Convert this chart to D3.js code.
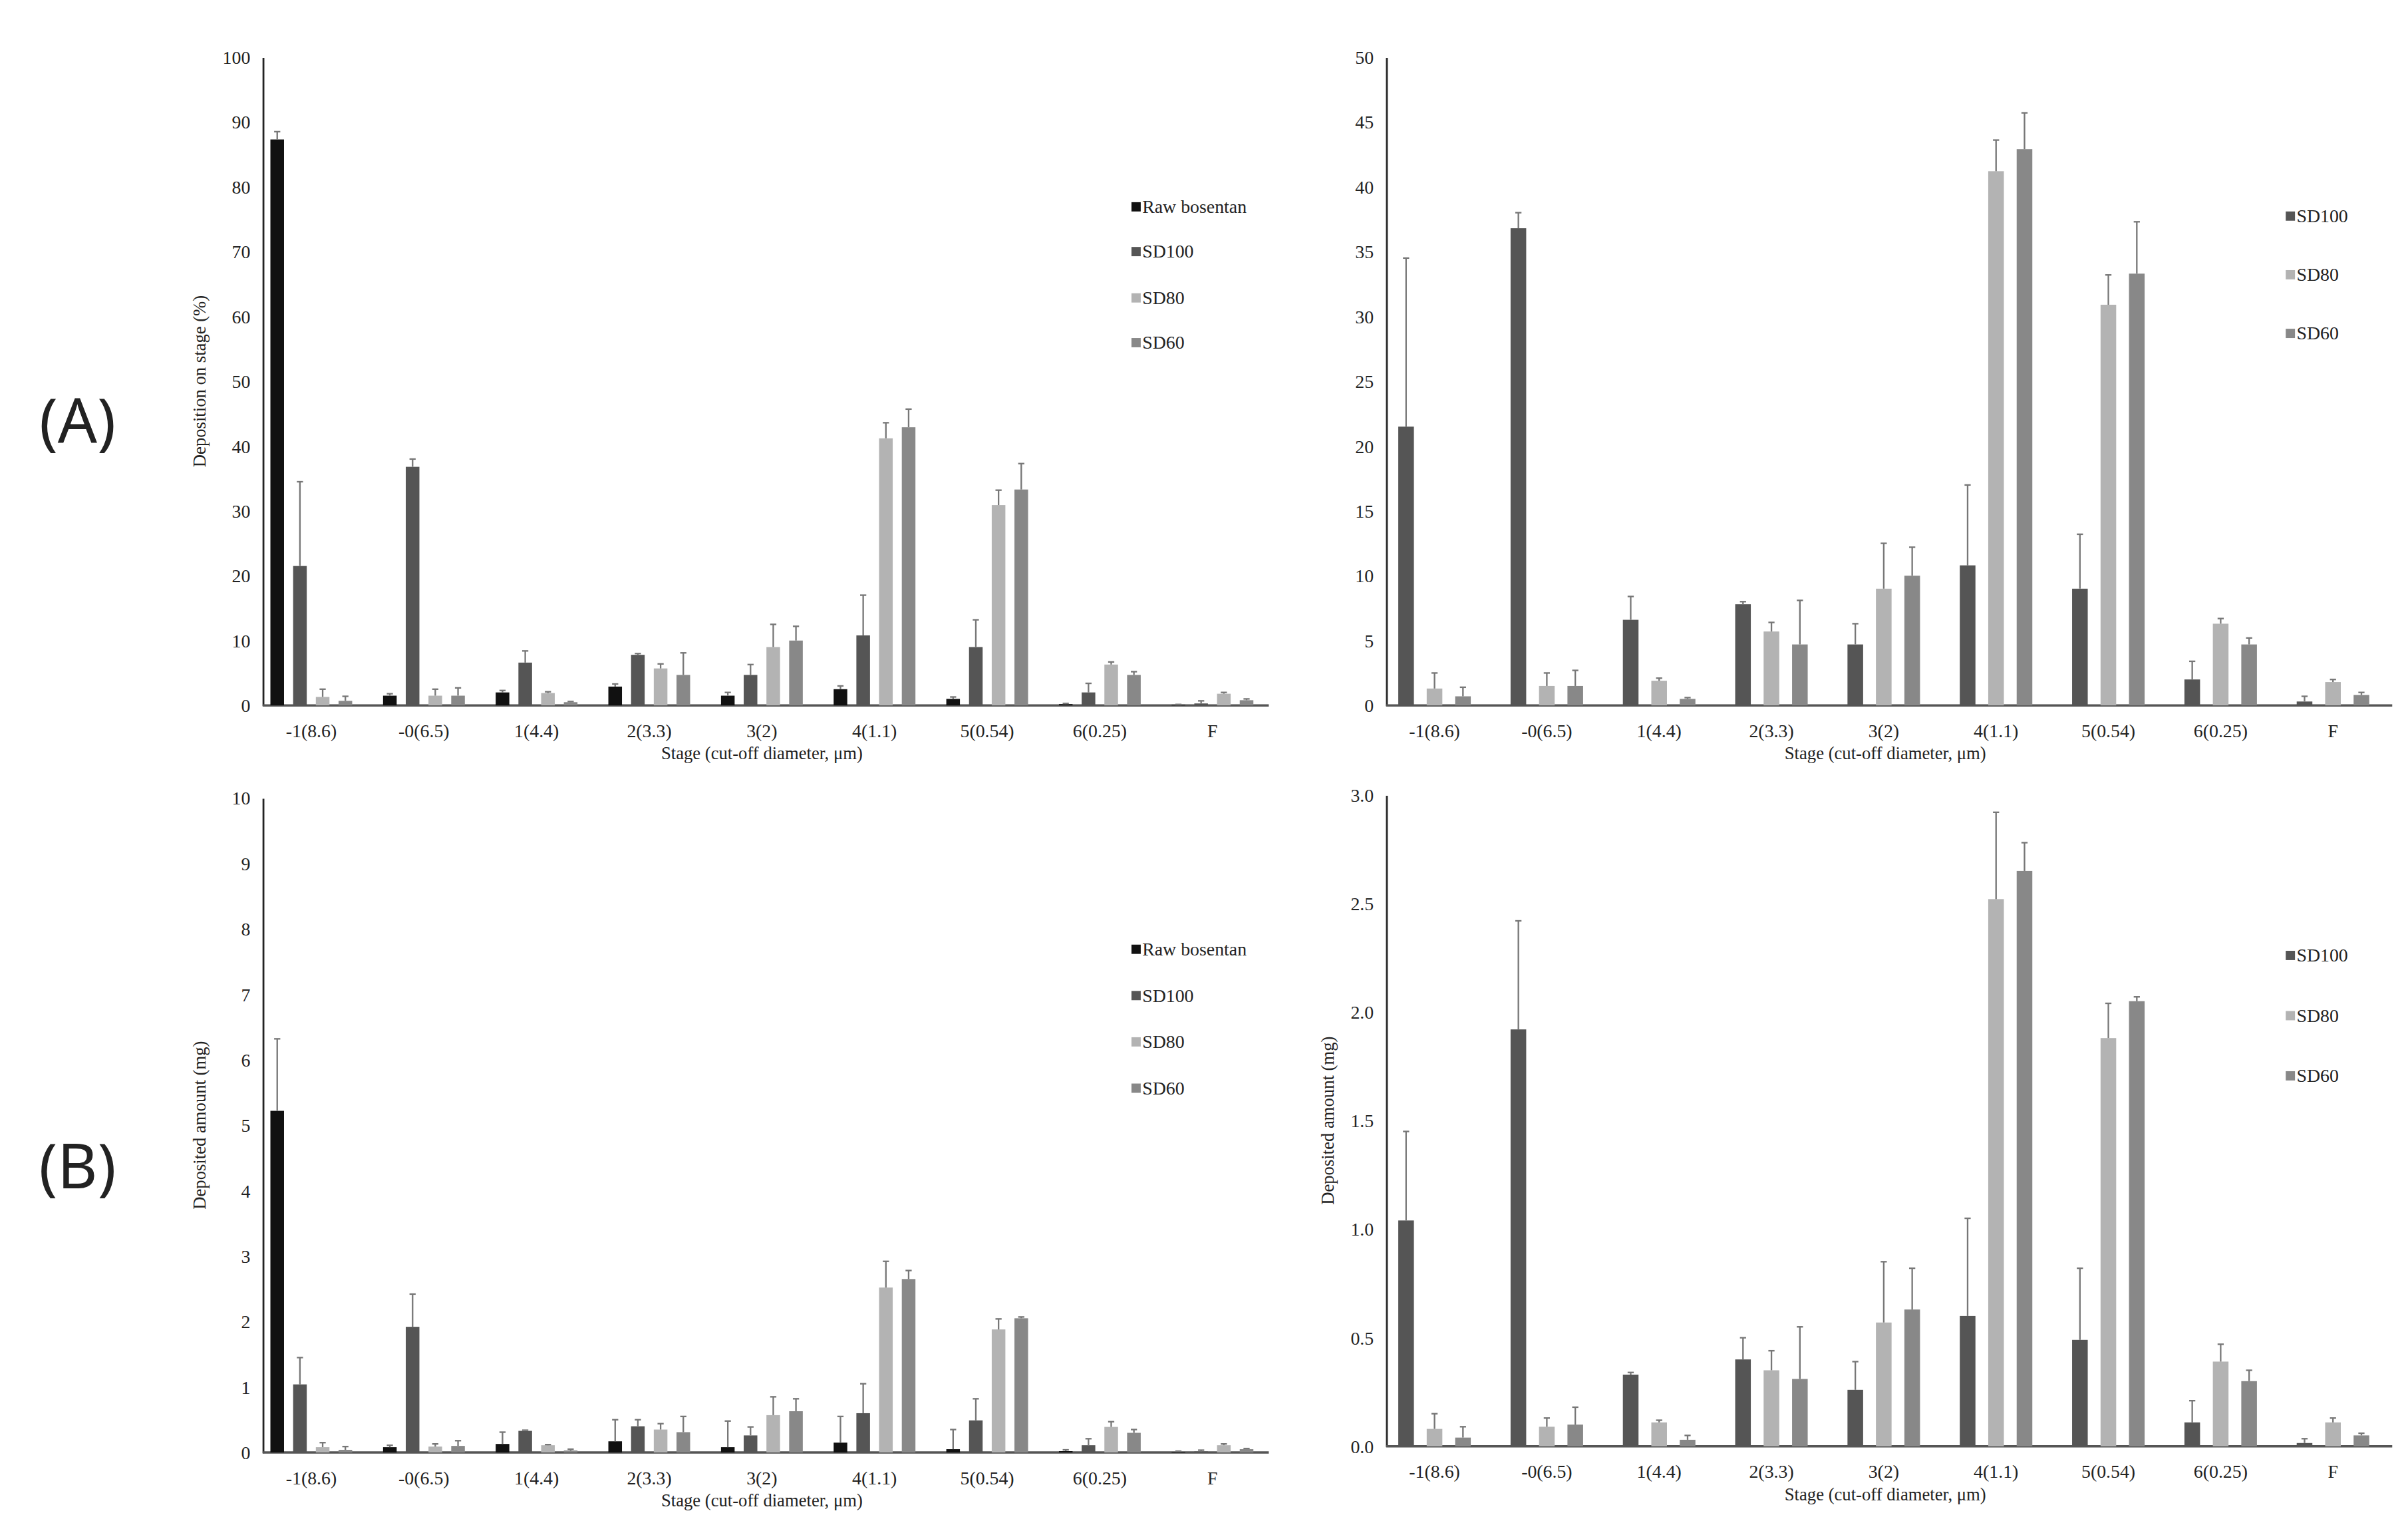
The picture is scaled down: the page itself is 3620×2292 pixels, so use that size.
<!DOCTYPE html>
<html><head><meta charset="utf-8">
<script src="https://cdn.jsdelivr.net/npm/d3@7"></script>
<style>body{margin:0;background:#fff}</style></head>
<body><svg id="c" width="3620" height="2292" viewBox="0 0 1560 988"></svg>
<script>
const stages = ["-1(8.6)","-0(6.5)","1(4.4)","2(3.3)","3(2)","4(1.1)","5(0.54)","6(0.25)","F"];
const seriesNames = ["Raw bosentan","SD100","SD80","SD60"];
const colors = ["#111111","#555555","#b3b3b3","#888888"];
// Deposition (%)
const pctRaw = [87.3,1.5,2.0,2.9,1.5,2.5,1.0,0.2,0.1];
const pctRawErr = [1.2,0.3,0.3,0.4,0.5,0.5,0.3,0.1,0.05];
const pctSD100 = [21.5,36.8,6.6,7.8,4.7,10.8,9.0,2.0,0.3];
const pctSD100Err = [13.0,1.2,1.8,0.2,1.6,6.2,4.2,1.4,0.4];
const pctSD80 = [1.3,1.5,1.9,5.7,9.0,41.2,30.9,6.3,1.8];
const pctSD80Err = [1.2,1.0,0.2,0.7,3.5,2.4,2.3,0.4,0.2];
const pctSD60 = [0.7,1.5,0.5,4.7,10.0,42.9,33.3,4.7,0.8];
const pctSD60Err = [0.7,1.2,0.1,3.4,2.2,2.8,4.0,0.5,0.2];
// Deposited amount (mg)
const mgRaw = [5.22,0.08,0.13,0.17,0.08,0.15,0.05,0.02,0.01];
const mgRawErr = [1.1,0.03,0.18,0.33,0.4,0.4,0.3,0.02,0.01];
const mgSD100 = [1.04,1.92,0.33,0.40,0.26,0.60,0.49,0.11,0.015];
const mgSD100Err = [0.41,0.5,0.01,0.1,0.13,0.45,0.33,0.1,0.02];
const mgSD80 = [0.08,0.09,0.11,0.35,0.57,2.52,1.88,0.39,0.11];
const mgSD80Err = [0.07,0.04,0.01,0.09,0.28,0.4,0.16,0.08,0.02];
const mgSD60 = [0.04,0.10,0.03,0.31,0.63,2.65,2.05,0.30,0.05];
const mgSD60Err = [0.05,0.08,0.02,0.24,0.19,0.13,0.02,0.05,0.01];

const svg = d3.select("#c");
const F = "Liberation Serif, Times New Roman, serif";

function panel(o){
  const g = svg.append("g");
  const x = d3.scaleBand().domain(stages).range([o.x0, o.x1]);
  const y = d3.scaleLinear().domain([0, o.ymax]).range([o.yb, o.yt]);
  const names = o.series.map(s=>s.name);
  const xi = d3.scaleBand().domain(names).range([0, o.gw]).paddingInner(o.pin);
  // axes
  const ya = g.append("g").attr("transform",`translate(${o.x0+5},0)`).call(d3.axisLeft(y).tickValues(d3.range(0,o.ymax+o.step/2,o.step)).tickSize(0).tickPadding(8));
  ya.select(".domain").attr("stroke","#222").attr("stroke-width",1.2);
  ya.selectAll("text").attr("font-family",F).attr("font-size",12).attr("fill","#222");
  const xa = g.append("g").attr("transform",`translate(0,${o.yb})`).call(d3.axisBottom(x).tickSize(0).tickPadding(12));
  xa.select(".domain").attr("stroke","#555").attr("stroke-width",1.5).attr("d",`M${o.x0+5},0H${o.xend}`);
  xa.selectAll("text").attr("font-family",F).attr("font-size",12).attr("fill","#222");
  o.series.forEach((s,si)=>{
    const gx = d => x(d) + x.bandwidth()/2 - o.gw/2 + xi(s.name);
    g.append("g").selectAll("rect").data(stages).join("rect")
      .attr("x",gx).attr("width",xi.bandwidth())
      .attr("y",(d,i)=>y(s.v[i])).attr("height",(d,i)=>y(0)-y(s.v[i]))
      .attr("fill",s.c);
    const eg = g.append("g").attr("stroke","#777").attr("stroke-width",1);
    stages.forEach((d,i)=>{
      const cx = gx(d)+xi.bandwidth()/2;
      eg.append("line").attr("x1",cx).attr("x2",cx).attr("y1",y(s.v[i])).attr("y2",y(s.v[i]+s.e[i]));
      eg.append("line").attr("x1",cx-2).attr("x2",cx+2).attr("y1",y(s.v[i]+s.e[i])).attr("y2",y(s.v[i]+s.e[i]));
    });
  });
  g.append("text").attr("x",(o.x0+o.xend)/2).attr("y",o.yb+35).attr("text-anchor","middle")
    .attr("font-family",F).attr("font-size",11.5).attr("fill","#222").text("Stage (cut-off diameter, μm)");
  if(o.ylabel) g.append("text").attr("transform",`translate(${o.ylx},${(o.yt+o.yb)/2}) rotate(-90)`)
    .attr("text-anchor","middle").attr("font-family",F).attr("font-size",11.5).attr("fill","#222").text(o.ylabel);
  o.series.forEach((s,si)=>{
    const ly = o.legY[si];
    g.append("rect").attr("x",o.legX).attr("y",ly-3).attr("width",6).attr("height",6).attr("fill",s.c);
    g.append("text").attr("x",o.legX+7).attr("y",ly+4).attr("font-family",F).attr("font-size",12).attr("fill","#222").text(s.name);
  });
}
const sPctAll = [{name:seriesNames[0],v:pctRaw,e:pctRawErr,c:colors[0]},{name:seriesNames[1],v:pctSD100,e:pctSD100Err,c:colors[1]},{name:seriesNames[2],v:pctSD80,e:pctSD80Err,c:colors[2]},{name:seriesNames[3],v:pctSD60,e:pctSD60Err,c:colors[3]}];
const sMgAll = [{name:seriesNames[0],v:mgRaw,e:mgRawErr,c:colors[0]},{name:seriesNames[1],v:mgSD100,e:mgSD100Err,c:colors[1]},{name:seriesNames[2],v:mgSD80,e:mgSD80Err,c:colors[2]},{name:seriesNames[3],v:mgSD60,e:mgSD60Err,c:colors[3]}];

panel({x0:165,x1:822,xend:822,yt:37,yb:457,ymax:100,step:10,series:sPctAll,gw:53,pin:0.4,ylabel:"Deposition on stage (%)",ylx:133,legX:733,legY:[134,163,193,222]});
panel({x0:893,x1:1548,xend:1550,yt:37,yb:457,ymax:50,step:5,series:sPctAll.slice(1),gw:47,pin:0.45,legX:1481,legY:[140,178,216]});
panel({x0:165,x1:822,xend:822,yt:517,yb:941,ymax:10,step:1,series:sMgAll,gw:53,pin:0.4,ylabel:"Deposited amount (mg)",ylx:133,legX:733,legY:[615,645,675,705]});
panel({x0:893,x1:1548,xend:1550,yt:515,yb:937,ymax:3,step:0.5,series:sMgAll.slice(1),gw:47,pin:0.45,ylabel:"Deposited amount (mg)",ylx:864,legX:1481,legY:[619,658,697]});

svg.append("text").attr("x",50).attr("y",287).attr("text-anchor","middle").attr("font-family","Noto Sans, sans-serif").attr("font-size",40).attr("fill","#222").text("(A)");
svg.append("text").attr("x",50).attr("y",770).attr("text-anchor","middle").attr("font-family","Noto Sans, sans-serif").attr("font-size",40).attr("fill","#222").text("(B)");
</script></body></html>
